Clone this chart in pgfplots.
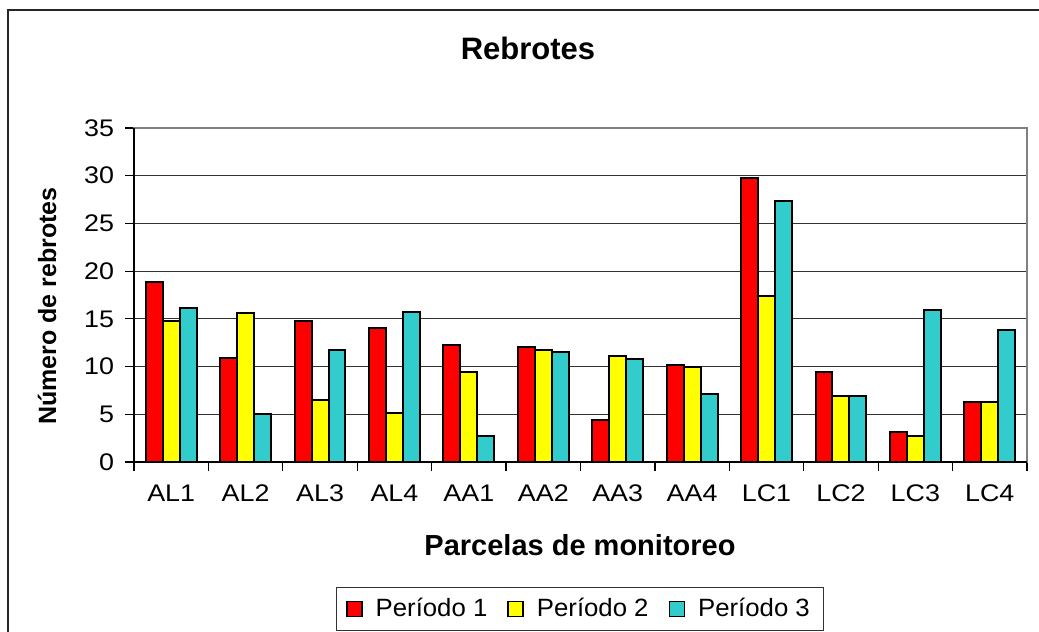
\documentclass[border=0pt]{standalone}
\usepackage{pgfplots}
\pgfplotsset{compat=1.18}
\usepackage{fontspec}
\setmainfont{Liberation Sans}
\newfontfamily\tickf[FakeStretch=1.12]{Liberation Sans}
\newfontfamily\legf[FakeStretch=1.03]{Liberation Sans}
\definecolor{cP1}{HTML}{FF0000}
\definecolor{cP2}{HTML}{FFFF00}
\definecolor{cP3}{HTML}{33CCCC}
\definecolor{frameg}{HTML}{808080}
\pgfplotstableread{
x P1 P2 P3
0 18.9 14.8 16.1
1 10.9 15.6 5.0
2 14.8 6.5 11.7
3 14.0 5.1 15.7
4 12.3 9.4 2.7
5 12.1 11.7 11.5
6 4.4 11.1 10.8
7 10.2 10.0 7.1
8 29.8 17.4 27.3
9 9.4 6.9 6.9
10 3.1 2.7 15.9
11 6.3 6.3 13.8
}\datatable
\begin{document}
\begin{tikzpicture}
\useasboundingbox (0,0) rectangle (519.5bp,-316bp);
\draw[line width=1bp, black!85] (4bp,-320bp) -- (4bp,-5bp) -- (525bp,-5bp);
\begin{axis}[
  at={(67bp,-231bp)}, anchor=south west,
  scale only axis, width=446.5bp, height=167bp,
  xmin=-0.5, xmax=11.5, ymin=0, ymax=35,
  ybar, bar width=0.228,
  ytick={0,5,...,35},
  xtick={0,...,11},
  xticklabels={AL1,AL2,AL3,AL4,AA1,AA2,AA3,AA4,LC1,LC2,LC3,LC4},
  minor xtick={-0.5,0.5,...,11.5},
  major x tick style={draw=none},
  minor x tick style={black, line width=0.6bp},
  tick align=outside,
  major tick length=4.5bp, minor tick length=4.5bp,
  ytick style={black, line width=0.6bp},
  xtick pos=bottom, ytick pos=left,
  ymajorgrids, grid style={black!80, line width=0.6bp},
  axis line style={frameg, line width=0.8bp},
  /pgf/number format/assume math mode=true,
  ticklabel style={font=\tickf\fontsize{12bp}{13bp}\selectfont},
  yticklabel style={xshift=-2bp},
  xticklabel style={yshift=-3.5bp},
  legend columns=3,
  legend style={at={(0.4994,-0.440)}, anchor=center, draw=black!80, line width=0.6bp,
    font=\legf\fontsize{12.5bp}{14bp}\selectfont, inner xsep=5bp, inner ysep=3.5bp,
    /tikz/every odd column/.append style={column sep=4.5bp},
    /tikz/every even column/.append style={column sep=8bp}},
  legend image code/.code={\draw[#1, draw=black, line width=0.8bp] (0bp,-3.75bp) rectangle (7.5bp,3.75bp);},
  clip=false,
]
\addplot[fill=cP1, draw=black, line width=1bp, bar shift=-0.228] table[x=x,y=P1]{\datatable};
\addplot[fill=cP2, draw=black, line width=1bp, bar shift=0] table[x=x,y=P2]{\datatable};
\addplot[fill=cP3, draw=black, line width=1bp, bar shift=0.228] table[x=x,y=P3]{\datatable};
\legend{Período 1, Período 2, Período 3}
\draw[black, line width=0.8bp] (rel axis cs:0,1) -- (rel axis cs:0,0) -- (rel axis cs:1,0);
\end{axis}
\node[font=\bfseries\fontsize{15.5bp}{17bp}\selectfont] at (264bp,-24bp) {Rebrotes};
\node[font=\bfseries\fontsize{12.5bp}{14bp}\selectfont, rotate=90] at (23.5bp,-153bp) {Número de rebrotes};
\node[font=\bfseries\fontsize{14.5bp}{16bp}\selectfont] at (290bp,-272.5bp) {Parcelas de monitoreo};
\end{tikzpicture}
\end{document}
